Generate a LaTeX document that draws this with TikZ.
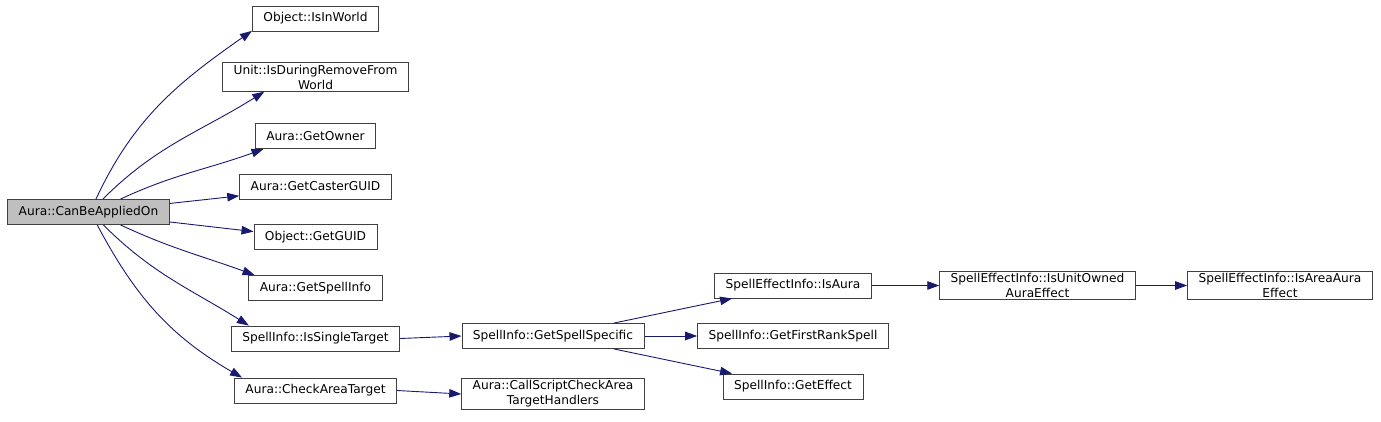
\documentclass[tikz,border=0pt]{standalone}
\usepackage{fontspec}
\setmainfont{DejaVu Sans}
\usetikzlibrary{arrows.meta}
\definecolor{callblue}{HTML}{191970}
\definecolor{rootgray}{HTML}{BFBFBF}

\begin{document}
\begin{tikzpicture}[
            x=1pt,y=1pt,
            ->,>={Triangle[length=12pt,width=8.5pt]},
            fn/.style={draw=black!75,line width=0.9pt,rectangle,minimum height=25pt,
                inner xsep=11pt,inner ysep=2pt,align=center,
                font=\fontsize{12.2}{15}\selectfont},
            calls/.style={every edge/.style={draw=callblue,line width=0.9pt}},
            node distance=50.5pt
        ]
        \useasboundingbox (0,0) rectangle (1381,-421);
        \node[fn,fill=rootgray] (canbeapplied) at (88.5,-212) {Aura::CanBeAppliedOn};
        \node[fn] (isinworld) at (315.5,-18.5) {Object::IsInWorld};
        \node[fn,node distance=58.5pt] (isduring) [below of=isinworld] {Unit::IsDuringRemoveFrom\\World};
        \node[fn,node distance=59pt] (getowner) [below of=isduring] {Aura::GetOwner};
        \node[fn] (getcaster) [below of=getowner] {Aura::GetCasterGUID};
        \node[fn] (getguid) [below of=getcaster] {Object::GetGUID};
        \node[fn,node distance=51pt] (getspellinfo) [below of=getguid] {Aura::GetSpellInfo};
        \node[fn] (single) [below of=getspellinfo] {SpellInfo::IsSingleTarget};
        \node[fn,node distance=52pt] (checkarea) [below of=single] {Aura::CheckAreaTarget};
        \node[fn,node distance=237.5pt,yshift=2.5pt] (specific) [right of=single] {SpellInfo::GetSpellSpecific};
        \node[fn,node distance=237.5pt,yshift=-3.5pt] (callscript) [right of=checkarea] {Aura::CallScriptCheckArea\\TargetHandlers};
        \node[fn,node distance=240pt] (firstrank) [right of=specific] {SpellInfo::GetFirstRankSpell};
        \node[fn] (isaura) [above of=firstrank] {SpellEffectInfo::IsAura};
        \node[fn] (geteffect) [below of=firstrank] {SpellInfo::GetEffect};
        \node[fn,node distance=244.5pt] (unitowned) [right of=isaura] {SpellEffectInfo::IsUnitOwned\\AuraEffect};
        \node[fn,node distance=242.5pt] (areaaura) [right of=unitowned] {SpellEffectInfo::IsAreaAura\\Effect};
        \path[calls] (canbeapplied.60) edge[out=65,in=215] (isinworld.191)
        (canbeapplied.42) edge[out=45,in=212] (isduring.196)
        (canbeapplied.22) edge[out=25,in=200] (getowner.194)
        (canbeapplied.6) edge (getcaster.187)
        (canbeapplied.353) edge (getguid.175)
        (canbeapplied.338) edge[out=-25,in=160] (getspellinfo.168)
        (canbeapplied.319) edge[out=-45,in=148] (single.169)
        (canbeapplied.304) edge[out=-62,in=150] (checkarea.170)
        (single.east) edge (specific.west)
        (checkarea.east) edge (callscript.west)
        (specific.12) edge (isaura.192)
        (specific.east) edge (firstrank.west)
        (specific.348) edge (geteffect.168)
        (isaura.east) edge (unitowned.west)
        (unitowned.east) edge (areaaura.west);
\end{tikzpicture}
\end{document}
